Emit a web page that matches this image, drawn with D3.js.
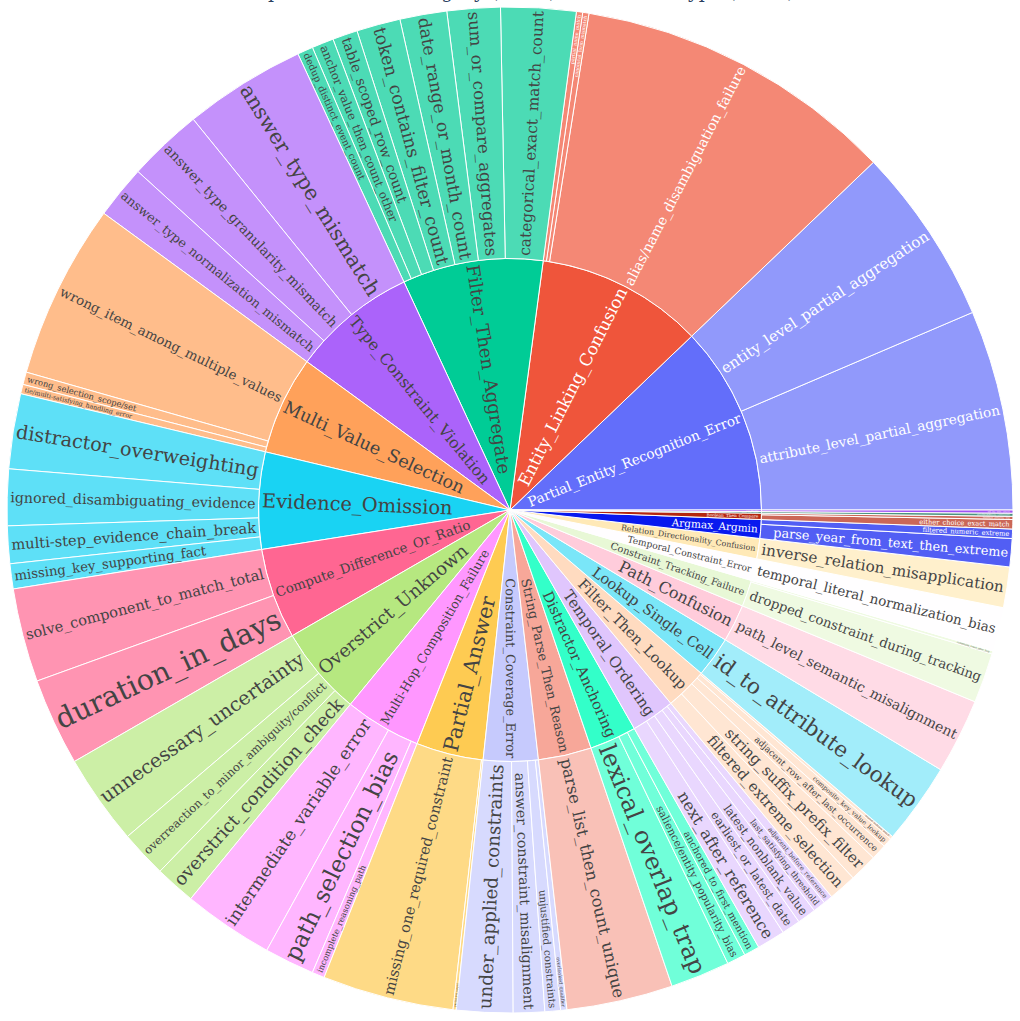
<!DOCTYPE html>
<html>
<head>
<meta charset="utf-8">
<script src="https://cdn.jsdelivr.net/npm/d3@7"></script>
<style>
  body { margin: 0; background: #fff; }
</style>
</head>
<body>
<div class="sunburst"></div>
<script>
// top level error categories (inner ring), in drawing order
var categories = ["Partial_Entity_Recognition_Error", "Entity_Linking_Confusion", "Filter_Then_Aggregate",
  "Type_Constraint_Violation", "Multi_Value_Selection", "Evidence_Omission", "Compute_Difference_Or_Ratio",
  "Overstrict_Unknown", "Multi-Hop_Composition_Failure", "Partial_Answer", "Constraint_Coverage_Error",
  "String_Parse_Then_Reason", "Distractor_Anchoring", "Temporal_Ordering", "Filter_Then_Lookup",
  "Lookup_Single_Cell", "Path_Confusion", "Constraint_Tracking_Failure", "Temporal_Constraint_Error",
  "Relation_Directionality_Confusion", "Argmax_Argmin", "Boolean_Then_Compare", "Attribute_Entity_Confusion",
  "Count_Offset_Error"];

// subtypes (outer ring) for each category
var subtypes = [
  ["attribute_level_partial_aggregation", "entity_level_partial_aggregation"],
  ["alias/name_disambiguation_failure", "canonical_form_mismatch", "partial_name_match"],
  ["categorical_exact_match_count", "sum_or_compare_aggregates", "date_range_or_month_count", "token_contains_filter_count",
   "table_scoped_row_count", "anchor_value_then_count_other", "dedup_distinct_event_count"],
  ["answer_type_mismatch", "answer_type_granularity_mismatch", "answer_type_normalization_mismatch"],
  ["wrong_item_among_multiple_values", "wrong_selection_scope/set", "tie/multi-satisfying_handling_error"],
  ["distractor_overweighting", "ignored_disambiguating_evidence", "multi-step_evidence_chain_break", "missing_key_supporting_fact"],
  ["solve_component_to_match_total", "duration_in_days"],
  ["unnecessary_uncertainty", "overreaction_to_minor_ambiguity/conflict", "overstrict_condition_check"],
  ["intermediate_variable_error", "path_selection_bias", "incomplete_reasoning_path"],
  ["missing_one_required_constraint", "partial_list_output"],
  ["under_applied_constraints", "answer_constraint_misalignment", "unjustified_constraints", "overlooked_qualifier"],
  ["parse_list_then_count_unique"],
  ["lexical_overlap_trap", "salience/entity_popularity_bias", "anchored_to_first_mention"],
  ["next_after_reference", "earliest_or_latest_date", "latest_nonblank_value", "last_satisfying_threshold", "adjacent_before_reference"],
  ["filtered_extreme_selection", "string_suffix_prefix_filter", "adjacent_row_after_last_occurrence", "composite_key_value_lookup", "nearest_inclusive_match"],
  ["id_to_attribute_lookup"],
  ["path_level_semantic_misalignment"],
  ["dropped_constraint_during_tracking", "constraint_reset_after_hop"],
  ["temporal_literal_normalization_bias"],
  ["inverse_relation_misapplication"],
  ["parse_year_from_text_then_extreme", "filtered_numeric_extreme"],
  ["either_choice_exact_match", "boolean_polarity_flip"],
  ["attribute/entity_confusion"],
  ["off_by_one_count"]
];

// error counts per subtype
var subtypeCounts = [
  [64, 57],
  [103, 2, 2],
  [24, 17, 15, 14, 8, 7, 5],
  [39, 24, 17],
  [56, 4, 3],
  [24, 18, 12, 8],
  [30, 28],
  [29, 15, 13],
  [29, 16, 4],
  [42, 1],
  [18, 10, 5, 2],
  [34],
  [19, 6, 5],
  [9, 6, 6, 4, 3],
  [9, 9, 5, 3, 1],
  [26],
  [24],
  [16, 1],
  [14],
  [13],
  [9, 3],
  [3, 1],
  [1],
  [1]
];

var chartTitle = "Top-level Error Category (inner) → Error Subtype (outer)";

var svgWidth = 1020;
var svgHeight = 1021;
var cx = 510, cy = 510;
var outerR = 503;
var innerR = outerR / 2;
var maxFont = 30;
var fontFamily = '"DejaVu Serif", "Liberation Serif", serif';

// plotly-like colorway, extended with lighter and darker variants
var colorway = ['#636efa', '#EF553B', '#00cc96', '#ab63fa', '#FFA15A', '#19d3f3', '#FF6692', '#B6E880', '#FF97FF', '#FECB52'];
function shiftLight(amt) {
  return colorway.map(function(c) {
    var h = d3.hsl(c);
    h.l = Math.max(0, Math.min(1, h.l + amt));
    return h.formatHex();
  });
}
var palette = colorway.concat(shiftLight(0.2), shiftLight(-0.2));

function textColor(c) {
  var rgb = d3.rgb(c);
  var brightness = (rgb.r * 299 + rgb.g * 587 + rgb.b * 114) / 1000;
  return brightness < 130 ? "#fff" : "#444";
}

var svg = d3.select(".sunburst")
  .append("svg")
  .attr("width", svgWidth)
  .attr("height", svgHeight);

svg.append("rect").attr("width", svgWidth).attr("height", svgHeight).attr("fill", "#fff");

var chartGroup = svg.append("g")
  .attr("transform", `translate(${cx}, ${cy})`);

var rootData = {
  name: "root",
  children: categories.map((c, i) => ({
    name: c,
    idx: i,
    children: subtypes[i].map((s, j) => ({ name: s, value: subtypeCounts[i][j] }))
  }))
};

var root = d3.hierarchy(rootData)
  .sum(d => d.value || 0)
  .sort((a, b) => b.value - a.value);

d3.partition().size([2 * Math.PI, 1])(root);

var nodes = root.descendants().filter(d => d.depth > 0);

function catColor(d) {
  var top = d.depth === 1 ? d : d.parent;
  return palette[top.data.idx % palette.length];
}

// angles counter-clockwise from 3 o'clock, converted for d3.arc
var arc = d3.arc()
  .startAngle(d => Math.PI / 2 - d.x0)
  .endAngle(d => Math.PI / 2 - d.x1)
  .innerRadius(d => d.depth === 1 ? 0 : innerR)
  .outerRadius(d => d.depth === 1 ? innerR : outerR);

chartGroup.selectAll("path")
  .data(nodes)
  .enter()
  .append("path")
  .attr("d", arc)
  .attr("fill", d => catColor(d))
  .attr("fill-opacity", d => d.depth === 2 ? 0.7 : 1)
  .attr("stroke", "#fff")
  .attr("stroke-width", 1);

// measure text at 100px then scale to fit radially inside each slice
var measure = svg.append("text")
  .attr("x", -2000).attr("y", 0)
  .style("font-family", fontFamily)
  .style("font-size", "100px");

function textBox(str) {
  measure.text(str);
  var bb = measure.node().getBBox();
  return { w: measure.node().getComputedTextLength() / 100, h: bb.height / 100, mid: (bb.y + bb.height / 2) / 100 };
}

function fitFont(box, r0, r1, halfAng) {
  var R = r1 - 3, rMin = r0 > 0 ? r0 + 3 : 0;
  var lo = 0, hi = maxFont;
  for (var k = 0; k < 40; k++) {
    var f = (lo + hi) / 2, w = box.w * f, h = box.h * f;
    var ri = Math.sqrt(Math.max(0, R * R - h * h / 4)) - w;
    var ok = ri >= rMin && (halfAng >= Math.PI / 2 || h / 2 <= ri * Math.tan(halfAng));
    if (ok) lo = f; else hi = f;
  }
  return lo;
}

var labels = nodes.map(function(d) {
  var box = textBox(d.data.name);
  var r0 = d.depth === 1 ? 0 : innerR;
  var r1 = d.depth === 1 ? innerR : outerR;
  var halfAng = (d.x1 - d.x0) / 2;
  var f = fitFont(box, r0, r1, halfAng);
  var R = r1 - 3;
  var h = box.h * f, w = box.w * f;
  var rc = Math.sqrt(Math.max(0, R * R - h * h / 4)) - w / 2;
  var mid = (d.x0 + d.x1) / 2;
  var deg = mid * 180 / Math.PI;
  var rot = Math.cos(mid) >= 0 ? -deg : 180 - deg;
  return {
    name: d.data.name,
    size: f,
    x: rc * Math.cos(mid),
    y: -rc * Math.sin(mid),
    rot: rot,
    dy: -box.mid * f,
    color: textColor(catColor(d))
  };
});
measure.remove();

chartGroup.selectAll("g.slice-label")
  .data(labels)
  .enter()
  .append("g")
  .classed("slice-label", true)
  .attr("transform", d => `translate(${d.x}, ${d.y}) rotate(${d.rot})`)
  .append("text")
  .attr("text-anchor", "middle")
  .attr("y", d => d.dy)
  .style("font-family", fontFamily)
  .style("font-size", d => d.size + "px")
  .style("fill", d => d.color)
  .text(d => d.name);

// title sits above the visible area, as in the source figure only its lowest strokes show
svg.append("text")
  .attr("x", 520)
  .attr("y", -2)
  .attr("text-anchor", "middle")
  .style("font-family", fontFamily)
  .style("font-size", "19px")
  .style("fill", "#2a3f5f")
  .text(chartTitle);
</script>
</body>
</html>
